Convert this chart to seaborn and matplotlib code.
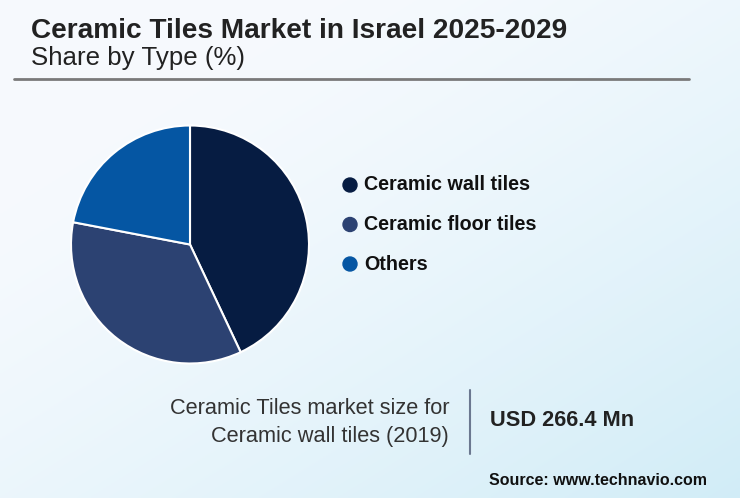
import numpy as np
import matplotlib
matplotlib.use("Agg")
import matplotlib.pyplot as plt
import seaborn as sns

# data
segments = ["Ceramic wall tiles", "Ceramic floor tiles", "Others"]
shares = [43.0, 35.0, 22.0]
colors = ["#061c42", "#2c4272", "#0556a3"]

title = "Ceramic Tiles Market in Israel 2025-2029"
subtitle = "Share by Type (%)"
size_label = ["Ceramic Tiles market size for", "Ceramic wall tiles (2019)"]
size_value = "USD 266.4 Mn"
source = "Source: www.technavio.com"

sns.set_theme(style="white")
plt.rcParams["font.family"] = ["Liberation Sans", "DejaVu Sans"]

W, H = 740, 498
fig = plt.figure(figsize=(W / 100, H / 100), dpi=100)

# background gradient, light at top-left to pale blue at bottom-right
bg = fig.add_axes([0, 0, 1, 1])
yy, xx = np.mgrid[0:1:200j, 0:1:300j]
t = np.clip(0.55 * xx + 0.6 * yy - 0.25, 0, 1) ** 1.3
c0 = np.array([0.965, 0.98, 0.995])
c1 = np.array([0.80, 0.92, 0.965])
img = c0 + (c1 - c0) * t[..., None]
bg.imshow(img, extent=[0, 1, 0, 1], origin="upper", aspect="auto")
bg.set_axis_off()


def fx(px):
    return px / W


def fy(py):
    return 1 - py / H


# header
fig.text(fx(31), fy(38.5), title, fontsize=20.2, fontweight="bold",
         color="#222222", va="baseline")
fig.text(fx(31), fy(65), subtitle, fontsize=18.6, color="#222222", va="baseline")
bg.plot([fx(14), fx(689)], [fy(79.5), fy(79.5)], color="#7a7a7a", lw=2,
        transform=fig.transFigure)

# pie
cx, cy, r = 190, 244.5, 119
ax = fig.add_axes([fx(cx - r), fy(cy + r), 2 * r / W, 2 * r / H])
ax.pie(shares, colors=colors, startangle=90, counterclock=False, radius=1,
       wedgeprops=dict(edgecolor="white", linewidth=1.5))
ax.set_xlim(-1, 1)
ax.set_ylim(-1, 1)
ax.set_aspect("auto")
ax.set_axis_off()

# legend markers in pixel space so they stay round
leg = fig.add_axes([0, 0, 1, 1])
leg.set_xlim(0, W)
leg.set_ylim(H, 0)
leg.set_axis_off()
for i, (name, col) in enumerate(zip(segments, colors)):
    y = 185 + i * 39.5
    leg.add_patch(plt.Circle((350, y), 7, color=col))
    fig.text(fx(364), fy(y), name, fontsize=14.2, fontweight="bold",
             color="#111111", va="center")

# market size block
fig.text(fx(449), fy(408), size_label[0], fontsize=15.7, color="#333333",
         ha="right", va="center")
fig.text(fx(449), fy(436), size_label[1], fontsize=15.7, color="#333333",
         ha="right", va="center")
leg.plot([470, 470], [390, 454], color="#6b7890", lw=1.5)
fig.text(fx(490), fy(420), size_value, fontsize=15.7, fontweight="bold",
         color="#222222", va="center")
fig.text(fx(707), fy(480), source, fontsize=11.5, fontweight="bold",
         color="#111111", ha="right", va="center")

fig.savefig("out.png", dpi=100)
